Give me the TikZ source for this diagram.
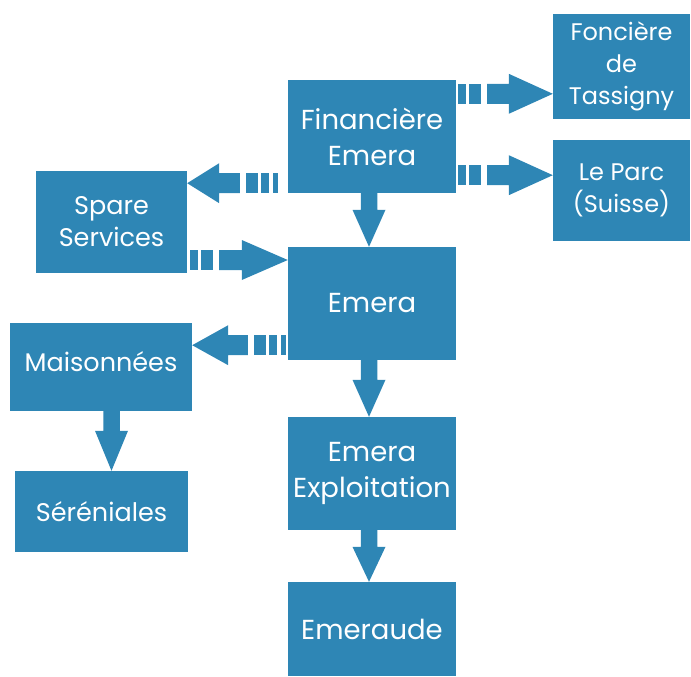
\documentclass[tikz,border=0pt]{standalone}
\usepackage{fontspec}
\setmainfont{Poppins}
\usetikzlibrary{calc,backgrounds}
\definecolor{boxblue}{RGB}{46,134,181}
\tikzset{
  bx/.style={fill=boxblue, draw=none, text=white, align=center, inner sep=0pt,
    font=\fontsize{27.5}{36}\selectfont},
  bxs/.style={bx, font=\fontsize{25.5}{32}\selectfont},
  bxt/.style={bx, font=\fontsize{24}{32}\selectfont},
  arr/.style={fill=boxblue, draw=none},
}
% striped arrow: #1 tail, #2 tip, #3 head length, #4 body half, #5 head half
\newcommand\sarrow[5]{%
  \path let \p1=(#1), \p2=(#2), \n1={veclen(\x2-\x1,\y2-\y1)}, \n2={atan2(\y2-\y1,\x2-\x1)} in
    \pgfextra{\xdef\arrlen{\n1}\xdef\arrang{\n2}};
  \begin{scope}[shift={(#1)}, rotate=\arrang]
    \fill[arr] (0pt,-#4pt) rectangle (5pt,#4pt);
    \fill[arr] (8.5pt,-#4pt) rectangle (16.5pt,#4pt);
    \fill[arr] (20pt,-#4pt) rectangle (32pt,#4pt);
    \fill[arr] (38pt,-#4pt) -- (\arrlen-#3pt,-#4pt) -- (\arrlen-#3pt,-#5pt) -- (\arrlen,0pt)
      -- (\arrlen-#3pt,#5pt) -- (\arrlen-#3pt,#4pt) -- (38pt,#4pt) -- cycle;
  \end{scope}}
% block arrow
\newcommand\barrow[5]{%
  \path let \p1=(#1), \p2=(#2), \n1={veclen(\x2-\x1,\y2-\y1)}, \n2={atan2(\y2-\y1,\x2-\x1)} in
    \pgfextra{\xdef\arrlen{\n1}\xdef\arrang{\n2}};
  \begin{scope}[shift={(#1)}, rotate=\arrang]
    \fill[arr] (0pt,-#4pt) -- (\arrlen-#3pt,-#4pt) -- (\arrlen-#3pt,-#5pt) -- (\arrlen,0pt)
      -- (\arrlen-#3pt,#5pt) -- (\arrlen-#3pt,#4pt) -- (0pt,#4pt) -- cycle;
  \end{scope}}
\begin{document}
\begin{tikzpicture}[x=1pt,y=-1pt]
\useasboundingbox (0,0) rectangle (691,677);
\node[bx, minimum width=168pt, minimum height=113pt] (fin) at (372,136.5) {Financière\\Emera};
\node[bx, minimum width=168pt, minimum height=113pt] (emera) at (372,303.5) {Emera};
\node[bx, minimum width=168pt, minimum height=113pt] (expl) at (372,473.5) {Emera\\Exploitation};
\node[bx, minimum width=168pt, minimum height=94pt] (emeraude) at (372,629) {Emeraude};
\node[bxt, minimum width=137pt, minimum height=105pt] (fon) at (621.5,66.5) {Foncière\\de\\Tassigny};
\node[bxt, minimum width=137pt, minimum height=101pt] (parc) at (621.5,190.5) {\raisebox{4pt}{Le Parc}\\\raisebox{4pt}{(Suisse)}};
\node[bxs, minimum width=151pt, minimum height=102pt] (spare) at (111.5,222) {\raisebox{2pt}{Spare}\\\raisebox{2pt}{Services}};
\node[bxs, minimum width=182pt, minimum height=88pt] (mais) at (101,366.5) {\raisebox{10pt}{Maisonnées}};
\node[bxs, minimum width=173pt, minimum height=81pt] (seren) at (101.5,511.5) {Séréniales};

\coordinate (a1t) at ($(fin.north east)+(-7,14)$);
\coordinate (a1h) at (fon.west |- a1t);
\coordinate (a2t) at ($(fin.south east)+(-7,-18)$);
\coordinate (a2h) at (parc.west |- a2t);
\coordinate (a3t) at ($(fin.south west)+(-10,-10)$);
\coordinate (a3h) at (spare.east |- a3t);
\coordinate (a4t) at ($(spare.east)+(-6,38)$);
\coordinate (a4h) at (emera.west |- a4t);
\coordinate (a5t) at ($(emera.south west)+(-2,-15)$);
\coordinate (a5h) at (mais.east |- a5t);
\coordinate (d1t) at ($(fin.south)+(-3,0)$);
\coordinate (d1h) at (d1t |- emera.north);
\coordinate (d2t) at ($(emera.south)+(-3,0)$);
\coordinate (d2h) at (d2t |- expl.north);
\coordinate (d3t) at ($(expl.south)+(-3,0)$);
\coordinate (d3h) at (d3t |- emeraude.north);
\coordinate (d4t) at ($(mais.south)+(10.5,0)$);
\coordinate (d4h) at (d4t |- seren.north);

\begin{scope}[on background layer]
\sarrow{a1t}{a1h}{44}{10}{20}
\sarrow{a2t}{a2h}{44}{10}{20}
\sarrow{a3t}{a3h}{32}{10}{20}
\sarrow{a4t}{a4h}{46}{10}{20}
\sarrow{a5t}{a5h}{36}{10}{20}
\barrow{d1t}{d1h}{37}{8.25}{16.5}
\barrow{d2t}{d2h}{37}{8.25}{16.5}
\barrow{d3t}{d3h}{35}{8.25}{16.5}
\barrow{d4t}{d4h}{40}{8.25}{16.5}
\end{scope}
\end{tikzpicture}
\end{document}
